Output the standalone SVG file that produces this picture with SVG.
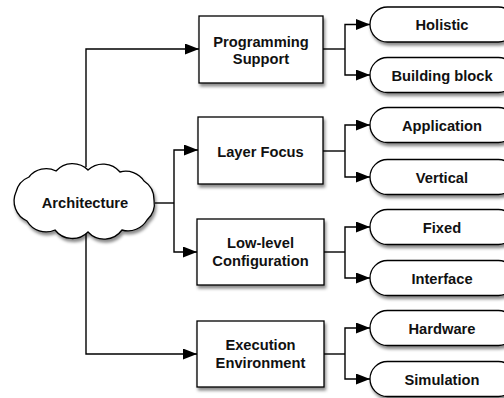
<svg xmlns="http://www.w3.org/2000/svg" width="504" height="398" viewBox="0 0 504 398">
<defs>
<filter id="sh" x="-20%" y="-20%" width="140%" height="150%">
<feDropShadow dx="1.5" dy="3" stdDeviation="1.8" flood-color="#000" flood-opacity="0.45"/>
</filter>
<marker id="ah" viewBox="0 0 14 11" refX="14" refY="5.5" markerWidth="14" markerHeight="11" markerUnits="userSpaceOnUse" orient="auto">
<path d="M0,0 L14,5.5 L0,11 Z" fill="#000"/>
</marker>
</defs>
<style>
.n{fill:#fff;stroke:#000;stroke-width:1.3;filter:url(#sh)}
.t{font-family:"Liberation Sans",Arial,sans-serif;font-size:14.7px;font-weight:bold;fill:#111;text-anchor:middle}
.c{fill:none;stroke:#000;stroke-width:1.4}
.a{marker-end:url(#ah)}
</style>
<g id="connectors">
<path class="c a" d="M86,167 V49 H199"/>
<path class="c a" d="M86,234 V354 H197"/>
<path class="c" d="M155,203 H174"/>
<path class="c a" d="M174,203 V150 H198"/>
<path class="c a" d="M174,203 V252 H197"/>
<path class="c" d="M323,49 H345"/>
<path class="c a" d="M345,49 V24.5 H370"/>
<path class="c a" d="M345,49 V75 H370"/>
<path class="c" d="M323,151 H345"/>
<path class="c a" d="M345,151 V125 H370"/>
<path class="c a" d="M345,151 V177 H370"/>
<path class="c" d="M323,252 H345"/>
<path class="c a" d="M345,252 V227 H370"/>
<path class="c a" d="M345,252 V278 H370"/>
<path class="c" d="M323,354 H345"/>
<path class="c a" d="M345,354 V328 H370"/>
<path class="c a" d="M345,354 V379 H370"/>
</g>
<g id="architecture">
<path class="n" d="M16,192 A22,22 0 0 1 29,177 A22,22 0 0 1 56,171 A22,22 0 0 1 88,170 A22,22 0 0 1 120,172 A22,22 0 0 1 144,181 A22,22 0 0 1 154,200 A22,22 0 0 1 147,220 A22,22 0 0 1 122,230 A22,22 0 0 1 88,232 A22,22 0 0 1 55,230 A22,22 0 0 1 27,221 A22,22 0 0 1 16,192 Z"/>
<text class="t" x="85" y="208">Architecture</text>
</g>
<g id="programming-support">
<rect class="n" x="199" y="16" width="124" height="67"/>
<text class="t" x="261" y="46.5">Programming</text>
<text class="t" x="261" y="64">Support</text>
</g>
<g id="layer-focus">
<rect class="n" x="198" y="117" width="125" height="67"/>
<text class="t" x="260.5" y="157">Layer Focus</text>
</g>
<g id="low-level-configuration">
<rect class="n" x="197" y="219" width="127" height="66"/>
<text class="t" x="260.5" y="248">Low-level</text>
<text class="t" x="260.5" y="265.5">Configuration</text>
</g>
<g id="execution-environment">
<rect class="n" x="197" y="321" width="127" height="66"/>
<text class="t" x="260.5" y="350">Execution</text>
<text class="t" x="260.5" y="367.5">Environment</text>
</g>
<g id="holistic">
<rect class="n" x="370" y="7" width="146" height="35" rx="17.5" ry="17.5"/>
<text class="t" x="442" y="30">Holistic</text>
</g>
<g id="building-block">
<rect class="n" x="370" y="57.5" width="146" height="35" rx="17.5" ry="17.5"/>
<text class="t" x="442" y="80.5">Building block</text>
</g>
<g id="application">
<rect class="n" x="370" y="107.5" width="146" height="35" rx="17.5" ry="17.5"/>
<text class="t" x="442" y="130.5">Application</text>
</g>
<g id="vertical">
<rect class="n" x="370" y="159.5" width="146" height="35" rx="17.5" ry="17.5"/>
<text class="t" x="442" y="182.5">Vertical</text>
</g>
<g id="fixed">
<rect class="n" x="370" y="209.5" width="146" height="35" rx="17.5" ry="17.5"/>
<text class="t" x="442" y="232.5">Fixed</text>
</g>
<g id="interface">
<rect class="n" x="370" y="260.5" width="146" height="35" rx="17.5" ry="17.5"/>
<text class="t" x="442" y="283.5">Interface</text>
</g>
<g id="hardware">
<rect class="n" x="370" y="310.5" width="146" height="35" rx="17.5" ry="17.5"/>
<text class="t" x="442" y="333.5">Hardware</text>
</g>
<g id="simulation">
<rect class="n" x="370" y="361.5" width="146" height="35" rx="17.5" ry="17.5"/>
<text class="t" x="442" y="384.5">Simulation</text>
</g>
</svg>
